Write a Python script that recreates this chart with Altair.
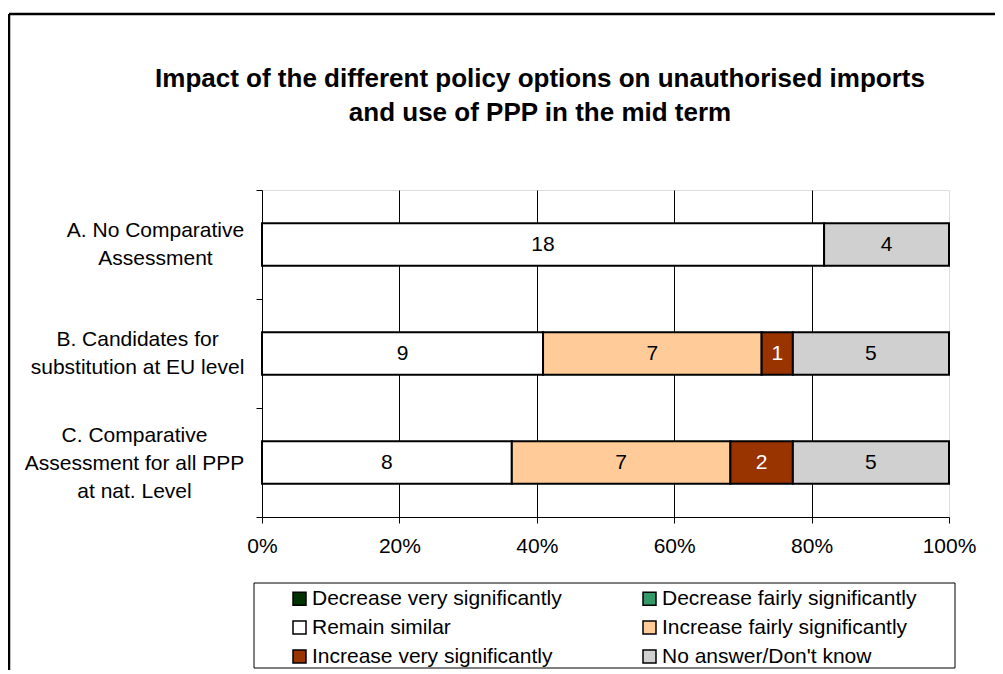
import altair as alt
import pandas as pd

# ---------------- data ----------------
categories = [
    "A. No Comparative|Assessment",
    "B. Candidates for|substitution at EU level",
    "C. Comparative|Assessment for all PPP|at nat. Level",
]
series = [
    "Decrease very significantly",
    "Decrease fairly significantly",
    "Remain similar",
    "Increase fairly significantly",
    "Increase very significantly",
    "No answer/Don't know",
]
dec_very = [0, 0, 0]
dec_fairly = [0, 0, 0]
remain_similar = [18, 9, 8]
inc_fairly = [0, 7, 7]
inc_very = [0, 1, 2]
no_answer = [4, 5, 5]
series_values = [dec_very, dec_fairly, remain_similar, inc_fairly, inc_very, no_answer]
colors = ["#003300", "#339966", "#FFFFFF", "#FFCC99", "#993300", "#D0D0D0"]
x_ticks = [0, 0.2, 0.4, 0.6, 0.8, 1.0]
title_lines = [
    "Impact of the different policy options on unauthorised imports",
    "and use of PPP in the mid term",
]

rows = []
for si, (s, vals) in enumerate(zip(series, series_values)):
    for c, v in zip(categories, vals):
        rows.append({"cat": c, "series": s, "value": v, "order": si})
df = pd.DataFrame(rows)
df = df[df["value"] > 0]

FONT = "Liberation Sans"
W, H = 687, 327

y_enc = alt.Y(
    "cat:N",
    sort=categories,
    scale=alt.Scale(paddingInner=0, paddingOuter=0),
    axis=alt.Axis(
        title=None,
        labelExpr="split(datum.label, '|')",
        labelAlign="center",
        labelBaseline="middle",
        labelLineHeight=28,
        labelFont=FONT,
        labelFontSize=21,
        labelColor="black",
        labelLimit=400,
        tickBand="extent",
        tickSize=6,
        tickColor="black",
        domainColor="black",
        labelPadding={
            "condition": [
                {"test": "substring(datum.value, 0, 2) == 'A.'", "value": 101},
                {"test": "substring(datum.value, 0, 2) == 'C.'", "value": 122},
            ],
            "value": 119,
        },
        labelOffset={
            "condition": {"test": "substring(datum.value, 0, 2) == 'C.'", "value": -27},
            "value": -14,
        },
        grid=False,
    ),
)

base = alt.Chart(df)

bars = base.mark_bar(stroke="black", strokeWidth=2, height=alt.RelativeBandSize(0.39)).encode(
    x=alt.X(
        "value:Q",
        stack="normalize",
        scale=alt.Scale(domain=[0, 1], nice=False),
        axis=alt.Axis(
            title=None,
            values=x_ticks,
            format="%",
            labelFont=FONT,
            labelFontSize=21,
            labelColor="black",
            labelFlush=False,
            tickSize=6,
            tickColor="black",
            labelPadding=12,
            domainColor="black",
            grid=True,
            gridColor="black",
            gridWidth=1,
            gridOpacity={
                "condition": {"test": "datum.value <= 0 || datum.value >= 1", "value": 0},
                "value": 1,
            },
        ),
    ),
    y=y_enc,
    color=alt.Color(
        "series:N",
        scale=alt.Scale(domain=series, range=colors),
        legend=alt.Legend(
            title=None,
            orient="none",
            direction="horizontal",
            legendX=27,
            legendY=398,
            columns=2,
            columnPadding=77,
            rowPadding=7,
            symbolType="square",
            symbolSize=169,
            symbolStrokeColor="black",
            symbolStrokeWidth=1.5,
            symbolOpacity=1,
            labelFont=FONT,
            labelFontSize=21,
            labelColor="black",
            labelLimit=400,
            labelOffset=2,
            padding=0,
        ),
    ),
    order=alt.Order("order:Q"),
)

labels = (
    base.transform_joinaggregate(total="sum(value)", groupby=["cat"])
    .transform_window(cum="sum(value)", sort=[alt.SortField("order")], groupby=["cat"])
    .transform_calculate(mid="(datum.cum - datum.value / 2) / datum.total")
    .mark_text(font=FONT, fontSize=21, align="center", baseline="middle")
    .encode(
        x=alt.X("mid:Q"),
        y=alt.Y("cat:N", sort=categories),
        text=alt.Text("value:Q"),
        color=alt.condition(
            "datum.series == 'Increase very significantly'",
            alt.value("white"),
            alt.value("black"),
        ),
    )
)

one = pd.DataFrame({"k": [0]})
legend_box = alt.Chart(one).mark_rect(fill="white", stroke="black", strokeWidth=1).encode(
    x=alt.value(-8), x2=alt.value(693), y=alt.value(393), y2=alt.value(478)
)
frame_top = alt.Chart(one).mark_rule(color="black", strokeWidth=2.5).encode(
    x=alt.value(-253), x2=alt.value(900), y=alt.value(-176)
)
frame_left = alt.Chart(one).mark_rule(color="black", strokeWidth=2.5).encode(
    x=alt.value(-253), y=alt.value(-176), y2=alt.value(600)
)
title_text = alt.Chart(one).mark_text(
    font=FONT, fontSize=26, fontWeight="bold", color="black",
    align="center", baseline="alphabetic", lineHeight=34,
).encode(
    x=alt.value(278), y=alt.value(-102.7), text=alt.value(title_lines)
)

chart = (
    alt.layer(frame_top, frame_left, title_text, legend_box, bars, labels)
    .properties(
        width=W,
        height=H,
        autosize=alt.AutoSizeParams(type="none"),
        padding={"left": 254, "top": 182, "right": 46, "bottom": 153},
    )
    .configure_view(fill="#C0C0C0", stroke="#808080", strokeWidth=3)
    .configure(background="white")
)

chart.save("out.html", embed_options={"renderer": "svg", "actions": False})
